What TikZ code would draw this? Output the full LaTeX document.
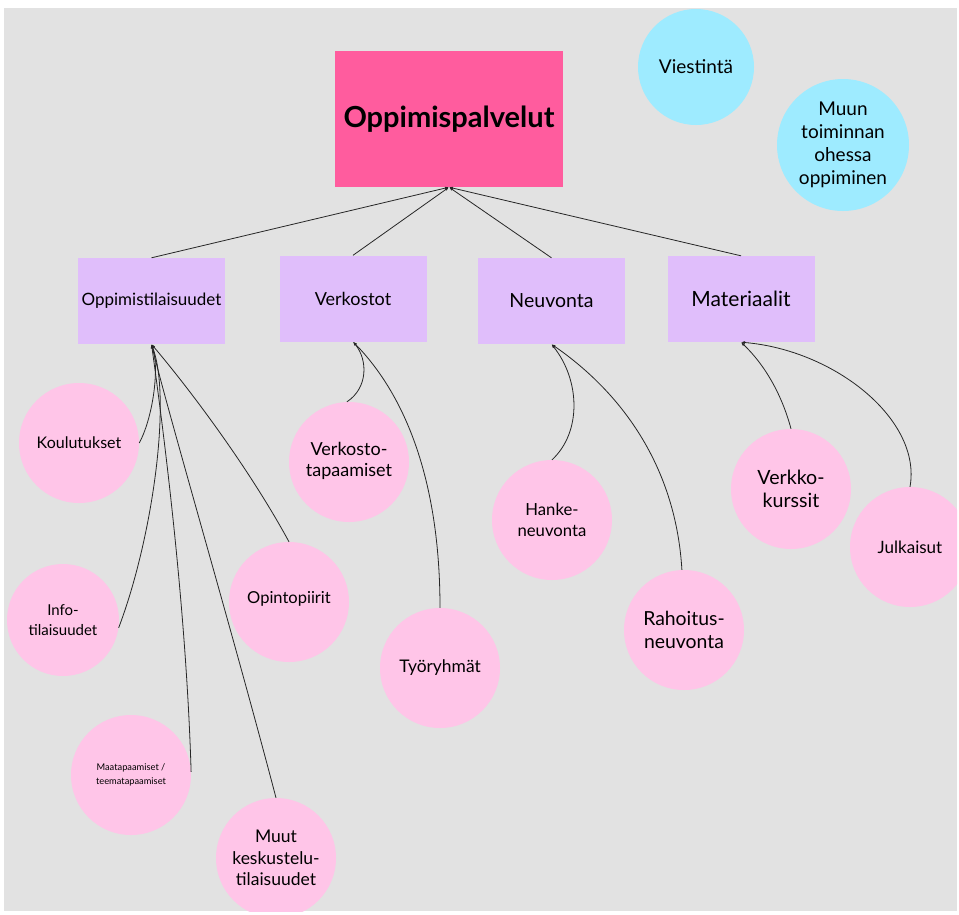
\documentclass[tikz,border=0pt]{standalone}
\usepackage{fontspec}
\setmainfont{Lato}
\usetikzlibrary{arrows.meta}
\definecolor{bgc}{HTML}{E2E2E2}
\definecolor{titlec}{HTML}{FF5C9E}
\definecolor{purplec}{HTML}{E0BEFB}
\definecolor{pinkc}{HTML}{FFC5E8}
\definecolor{cyanc}{HTML}{9EEBFF}
\newcommand{\fsz}[2]{\fontsize{#1}{#2}\selectfont}
\tikzset{
  titlebox/.style={rectangle, fill=titlec, minimum width=228pt, minimum height=136pt, inner sep=0pt, font=\fsz{29}{33}\bfseries},
  catbox/.style={rectangle, fill=purplec, minimum width=147pt, minimum height=86pt, inner sep=0pt, font=\fsz{17}{20}},
  pinkball/.style={circle, fill=pinkc, minimum size=120pt, inner sep=0pt, align=center, font=\fsz{16.5}{21}},
  cyanball/.style={circle, fill=cyanc, inner sep=0pt, align=center, font=\fsz{19}{23}},
  conn/.style={draw=black!85, line width=0.8pt, -{Latex[length=4pt,width=3pt]}}
}
\begin{document}
\begin{tikzpicture}[x=1pt,y=-1pt]
\useasboundingbox (0,0) rectangle (959,914);
\fill[white] (0,0) rectangle (959,914);
\begin{scope}
\clip (4,8) rectangle (957,911);
\fill[bgc] (4,8) rectangle (957,911);

\node[titlebox] (title) at (449,119) {Oppimispalvelut};
\node[cyanball, minimum size=116pt] (vies) at (696,67) {Viestintä};
\node[cyanball, minimum size=132pt, font=\fsz{19}{23}] (muun) at (843,145) {Muun\\toiminnan\\ohessa\\oppiminen};

\node[catbox] (opp) at (151.5,301) {Oppimistilaisuudet};
\node[catbox, font=\fsz{18}{20}] (verk) at (353,298.5) {Verkostot};
\node[catbox, font=\fsz{19.5}{22}] (neuv) at (551.5,301) {Neuvonta};
\node[catbox, font=\fsz{21}{24}] (mat) at (741,299) {Materiaalit};

\node[pinkball, font=\fsz{16}{20}] (kou) at (79,443) {Koulutukset};
\node[pinkball, minimum size=112pt, font=\fsz{15}{20}] (info) at (63,620) {Info-\\tilaisuudet};
\node[pinkball, font=\fsz{9.3}{14}] (maa) at (131,775) {Maatapaamiset /\\teematapaamiset};
\node[pinkball, font=\fsz{17.5}{21.5}] (muut) at (276,858) {Muut\\keskustelu-\\tilaisuudet};
\node[pinkball] (opin) at (289,602) {\raisebox{10pt}{Opintopiirit}};
\node[pinkball, font=\fsz{18}{21}] (vtap) at (349,462) {\raisebox{10pt}{\begin{tabular}{@{}c@{}}Verkosto-\\tapaamiset\end{tabular}}};
\node[pinkball, font=\fsz{17.4}{21}] (tyo) at (440,668) {Työryhmät};
\node[pinkball, font=\fsz{16.7}{21}] (hank) at (552,520) {Hanke-\\neuvonta};
\node[pinkball, font=\fsz{19.4}{23}] (rah) at (684,630) {Rahoitus-\\neuvonta};
\node[pinkball, font=\fsz{19.6}{23}] (vkur) at (791,489) {Verkko-\\kurssit};
\node[pinkball, font=\fsz{17}{21}] (julk) at (910,547) {Julkaisut};

% top level connectors
\draw[conn] (opp.north) -- (title.south);
\draw[conn] (verk.north) -- (title.south);
\draw[conn] (neuv.north) -- (title.south);
\draw[conn] (mat.north) -- (title.south);

% Oppimistilaisuudet children
\draw[conn] (kou.0) .. controls (152,420) and (160,370) .. (opp.south);
\draw[conn] (info.-8) .. controls (152,540) and (172,400) .. (opp.south);
\draw[conn] (maa.3) .. controls (186,600) and (162,420) .. (opp.south);
\draw[conn] (muut.90) .. controls (232,630) and (170,420) .. (opp.south);
\draw[conn] (opin.90) .. controls (250,470) and (192,392) .. (opp.south);

% Verkostot children
\draw[conn] (vtap.92) .. controls (368,388) and (368,360) .. (verk.south);
\draw[conn] (tyo.90) .. controls (440,480) and (405,395) .. (verk.south);

% Neuvonta children
\draw[conn] (hank.90) .. controls (582,432) and (580,380) .. (neuv.south);
\draw[conn] (rah.92) .. controls (676,470) and (625,395) .. (neuv.south);

% Materiaalit children
\draw[conn] (vkur.90) .. controls (782,395) and (765,365) .. (mat.south);
\draw[conn] (julk.90) .. controls (922,420) and (835,350) .. (mat.south);
\end{scope}
\end{tikzpicture}
\end{document}
